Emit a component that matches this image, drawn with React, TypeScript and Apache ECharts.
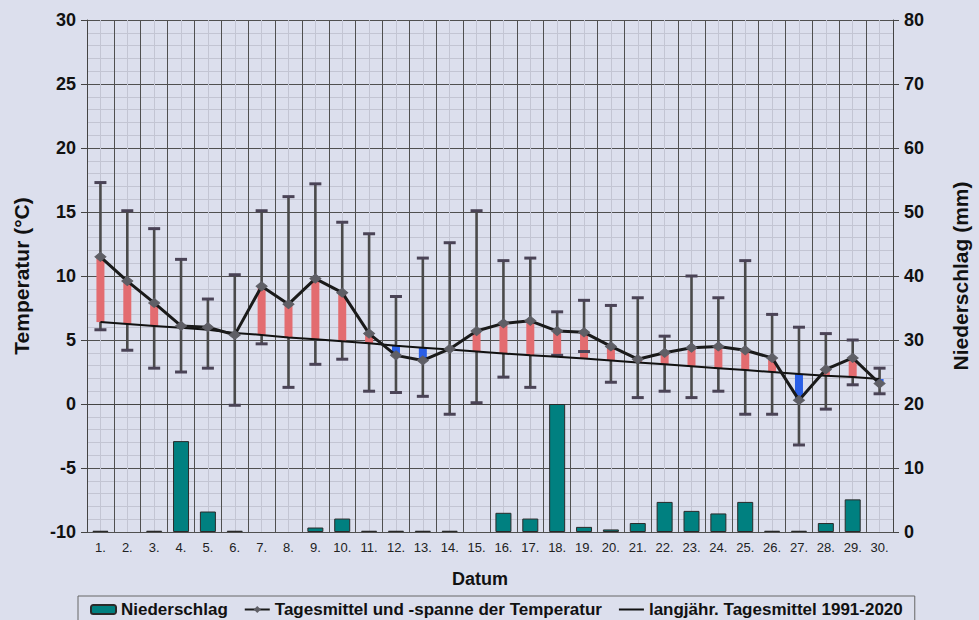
import React, { useEffect, useRef } from "react";
import * as echarts from "echarts";

const days = ["1.", "2.", "3.", "4.", "5.", "6.", "7.", "8.", "9.", "10.", "11.", "12.", "13.", "14.", "15.", "16.", "17.", "18.", "19.", "20.", "21.", "22.", "23.", "24.", "25.", "26.", "27.", "28.", "29.", "30."];
const tMean = [11.5, 9.6, 7.9, 6.1, 6.0, 5.4, 9.2, 7.8, 9.8, 8.7, 5.5, 3.8, 3.4, 4.3, 5.7, 6.3, 6.5, 5.7, 5.6, 4.5, 3.5, 4.0, 4.4, 4.5, 4.2, 3.6, 0.3, 2.7, 3.6, 1.6];
const tMax = [17.3, 15.1, 13.7, 11.3, 8.2, 10.1, 15.1, 16.2, 17.2, 14.2, 13.3, 8.4, 11.4, 12.6, 15.1, 11.2, 11.4, 7.2, 8.1, 7.7, 8.3, 5.3, 10.0, 8.3, 11.2, 7.0, 6.0, 5.5, 5.0, 2.8];
const tMin = [5.8, 4.2, 2.8, 2.5, 2.8, -0.1, 4.7, 1.3, 3.1, 3.5, 1.0, 0.9, 0.6, -0.8, 0.1, 2.1, 1.3, 3.8, 4.1, 1.7, 0.5, 1.0, 0.5, 1.0, -0.8, -0.8, -3.2, -0.4, 1.5, 0.8];
const tLongTerm = [6.4, 6.25, 6.1, 5.95, 5.8, 5.55, 5.4, 5.2, 5.05, 4.9, 4.75, 4.55, 4.4, 4.25, 4.1, 3.95, 3.8, 3.7, 3.55, 3.4, 3.25, 3.1, 2.95, 2.8, 2.65, 2.5, 2.35, 2.2, 2.1, 1.95];
const precip = [0.2, 0, 0.2, 14.2, 3.2, 0.2, 0, 0, 0.7, 2.1, 0.2, 0.2, 0.2, 0.2, 0, 3.0, 2.1, 20.0, 0.8, 0.4, 1.4, 4.7, 3.3, 2.9, 4.7, 0.2, 0.2, 1.4, 5.1, 0];

const FONT = "'Liberation Sans', Arial, Helvetica, sans-serif";
const BG = "#dcdfed";
const DARK = "#505050";
const MINOR = "#c3c5d3";

export default function App() {
  const ref = useRef<HTMLDivElement>(null);
  useEffect(() => {
    document.body.style.margin = "0";
    const chart = echarts.init(ref.current!, null, { renderer: "svg" });
    const rangeData = days.map((_, i) => [i, tMin[i], tMax[i], tMean[i], tLongTerm[i]]);
    const option: any = {
      animation: false,
      backgroundColor: BG,
      textStyle: { fontFamily: FONT },
      grid: { left: 87, right: 78, top: 20, bottom: 88 },
      legend: {
        bottom: -14,
        left: 78,
        data: [
          { name: "Niederschlag" },
          { name: "Tagesmittel und -spanne der Temperatur" },
          { name: "langjähr. Tagesmittel 1991-2020", itemStyle: { opacity: 0 } },
        ],
        itemWidth: 25,
        itemHeight: 9,
        itemGap: 16,
        padding: [5, 12, 16, 12],
        borderColor: "#666",
        borderWidth: 1,
        textStyle: { fontFamily: FONT, fontSize: 17, fontWeight: "bold", color: "#111" },
      },
      xAxis: [
        {
          type: "category",
          data: days,
          boundaryGap: true,
          name: "Datum",
          nameLocation: "middle",
          nameGap: 38,
          nameTextStyle: { fontFamily: FONT, fontSize: 18, fontWeight: "bold", color: "#111", padding: [0, 20, 0, 0] },
          axisLine: { show: true, lineStyle: { color: "#444", width: 1 } },
          axisTick: { show: true, length: 5, lineStyle: { color: "#444" } },
          axisLabel: { fontFamily: FONT, fontSize: 13, color: "#222", margin: 9, interval: 0 },
          splitLine: { show: false },
        },
        {
          type: "value",
          min: 0,
          max: 60,
          interval: 2,
          show: true,
          axisLine: { show: false },
          axisTick: { show: false },
          axisLabel: { show: false },
          splitLine: { show: true, lineStyle: { color: DARK, width: 1 } },
          minorTick: { show: false, splitNumber: 2 },
          minorSplitLine: { show: true, lineStyle: { color: MINOR, width: 1 } },
        },
      ],
      yAxis: [
        {
          type: "value",
          min: -10,
          max: 30,
          interval: 5,
          name: "Temperatur (°C)",
          nameLocation: "middle",
          nameRotate: 90,
          nameGap: 55,
          nameTextStyle: { fontFamily: FONT, fontSize: 21, fontWeight: "bold", color: "#111" },
          axisLine: { show: true, lineStyle: { color: "#444" } },
          axisTick: { show: true, length: 6, lineStyle: { color: "#444" } },
          axisLabel: { fontFamily: FONT, fontSize: 18, fontWeight: "bold", color: "#111", margin: 11 },
          splitLine: { show: true, lineStyle: { color: DARK, width: 1 } },
          minorTick: { show: false, splitNumber: 5 },
          minorSplitLine: { show: true, lineStyle: { color: MINOR, width: 1 } },
        },
        {
          type: "value",
          min: 0,
          max: 80,
          interval: 10,
          name: "Niederschlag (mm)",
          nameLocation: "middle",
          nameRotate: 90,
          nameGap: 57,
          nameTextStyle: { fontFamily: FONT, fontSize: 21, fontWeight: "bold", color: "#111" },
          axisLine: { show: true, lineStyle: { color: "#444" } },
          axisTick: { show: true, length: 6, lineStyle: { color: "#444" } },
          axisLabel: { fontFamily: FONT, fontSize: 18, fontWeight: "bold", color: "#111", margin: 11 },
          splitLine: { show: false },
        },
      ],
      series: [
        {
          name: "Niederschlag",
          type: "bar",
          xAxisIndex: 0,
          yAxisIndex: 1,
          data: precip.map((v) => (v === 0 ? "-" : v)),
          barWidth: 16,
          itemStyle: { color: "#008080", borderColor: "#2a2a2a", borderWidth: 1 },
          z: 2,
        },
        {
          name: "range",
          type: "custom",
          xAxisIndex: 0,
          yAxisIndex: 0,
          data: rangeData,
          encode: { x: 0, y: [1, 2, 3, 4] },
          z: 3,
          renderItem: (params: any, api: any) => {
            const i = api.value(0);
            const pMin = api.coord([i, api.value(1)]);
            const pMax = api.coord([i, api.value(2)]);
            const pMean = api.coord([i, api.value(3)]);
            const pLT = api.coord([i, api.value(4)]);
            const cx = pMin[0];
            const up = api.value(3) >= api.value(4);
            const top = Math.min(pMean[1], pLT[1]);
            const h = Math.max(Math.abs(pMean[1] - pLT[1]), 1);
            const capStyle = { stroke: "#4a4356", lineWidth: 3 };
            return {
              type: "group",
              children: [
                { type: "line", shape: { x1: cx, y1: pMin[1], x2: cx, y2: pMax[1] }, style: { stroke: "#4a4a4a", lineWidth: 2.6 } },
                { type: "rect", shape: { x: cx - 4, y: top, width: 8, height: h }, style: { fill: up ? "#e36c70" : "#2a5fe6" } },
                { type: "line", shape: { x1: cx - 6, y1: pMax[1], x2: cx + 6, y2: pMax[1] }, style: capStyle },
                { type: "line", shape: { x1: cx - 6, y1: pMin[1], x2: cx + 6, y2: pMin[1] }, style: capStyle },
              ],
            };
          },
        },
        {
          name: "langjähr. Tagesmittel 1991-2020",
          type: "line",
          xAxisIndex: 0,
          yAxisIndex: 0,
          data: tLongTerm,
          symbol: "none",
          lineStyle: { color: "#111", width: 2 },
          itemStyle: { color: "#111" },
          z: 4,
        },
        {
          name: "Tagesmittel und -spanne der Temperatur",
          type: "line",
          xAxisIndex: 0,
          yAxisIndex: 0,
          data: tMean,
          symbol: "diamond",
          symbolSize: [11, 9],
          lineStyle: { color: "#1a1a1a", width: 3 },
          itemStyle: { color: "#5f5f66", borderColor: "#5f5f66" },
          z: 5,
        },
      ],
    };
    chart.setOption(option);
    return () => chart.dispose();
  }, []);
  return <div ref={ref} style={{ position: "fixed", left: 0, top: 0, width: 979, height: 620 }} />;
}
